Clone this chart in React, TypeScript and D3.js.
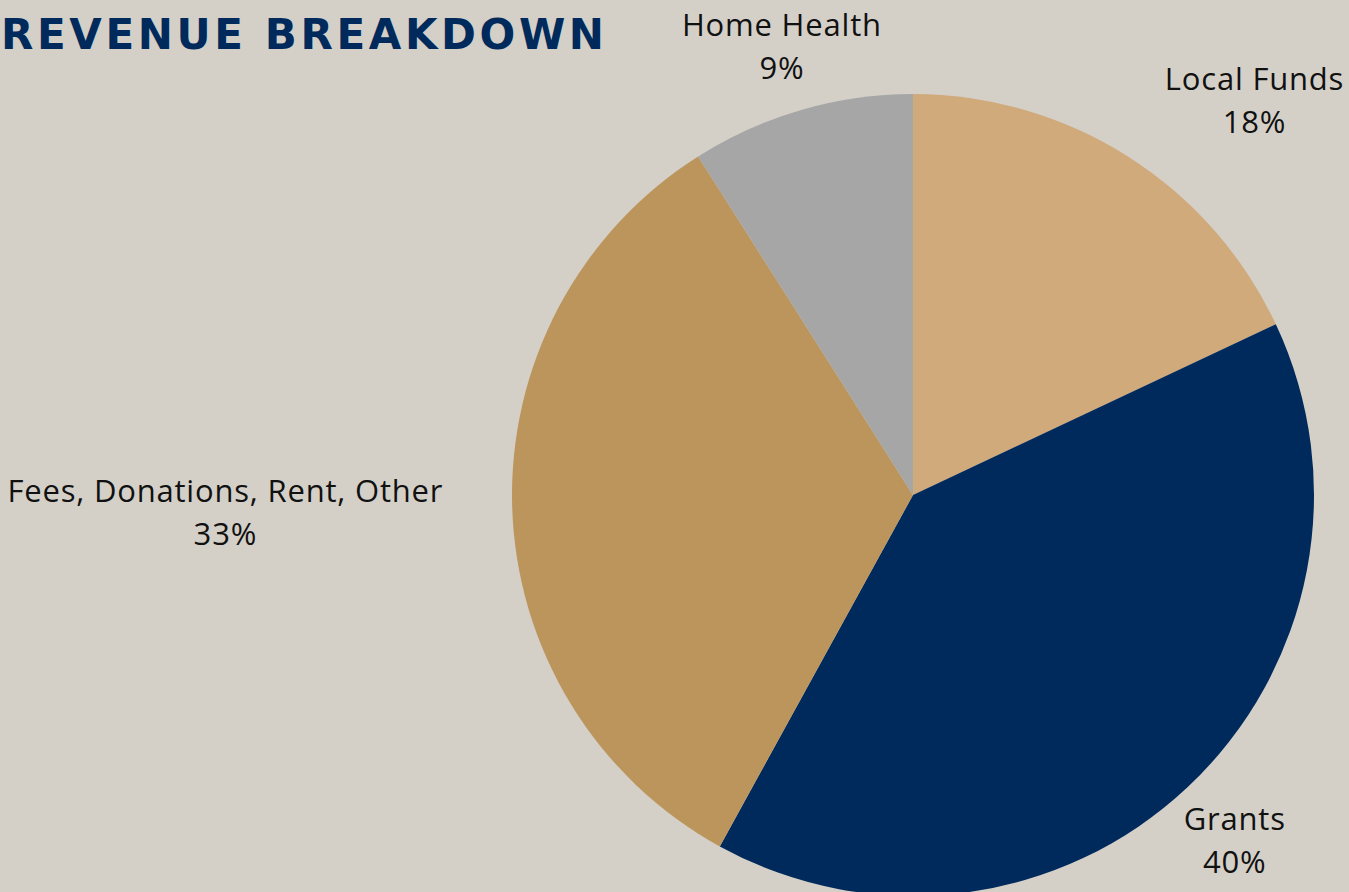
import React, { useEffect, useRef } from "react";
import * as d3 from "d3";

const categories = ["Local Funds", "Grants", "Fees, Donations, Rent, Other", "Home Health"];
const shares = [18, 40, 33, 9];
const colors = ["#D0AA7A", "#002A5C", "#BC955C", "#A6A6A6"];
// label anchor per slice (layout only)
const anchors = ["start", "middle", "end", "middle"];

const W = 1349;
const H = 892;

const App = () => {
  const svgRef = useRef<SVGSVGElement | null>(null);

  useEffect(() => {
    document.body.style.margin = "0";
    const svg = d3.select(svgRef.current);
    svg.selectAll("*").remove();

    svg.append("rect").attr("width", W).attr("height", H).attr("fill", "#D4D0C8");

    const cx = 913;
    const cy = 495;
    const radius = 401;

    const data = categories.map((c, i) => ({ name: c, value: shares[i], i }));
    const pie = d3
      .pie<any>()
      .sort(null)
      .value((d) => d.value);
    const arc = d3.arc<any>().innerRadius(0).outerRadius(radius);
    const labelArc = d3.arc<any>().innerRadius(470).outerRadius(470);

    const g = svg.append("g").attr("transform", `translate(${cx}, ${cy})`);
    const arcs = pie(data);

    g.selectAll("path")
      .data(arcs)
      .enter()
      .append("path")
      .attr("d", arc)
      .attr("fill", (d) => colors[d.data.i]);

    const lineH = 43;
    const labels = g
      .selectAll(".lbl")
      .data(arcs)
      .enter()
      .append("text")
      .attr("class", "lbl")
      .attr("font-family", "'Open Sans', sans-serif")
      .attr("font-size", 31)
      .attr("letter-spacing", 0.8)
      .attr("fill", "#111");

    labels.each(function (d) {
      const [x, y] = labelArc.centroid(d);
      const t = d3.select(this);
      const anchor = anchors[d.data.i];
      const lines = [d.data.name, `${d.data.value}%`];
      // measure first line to center the percentage under it
      t.append("tspan").attr("x", x).attr("y", y - 8).text(lines[0]);
      const w = (t.node() as SVGTextElement).getComputedTextLength();
      t.selectAll("*").remove();
      let left = x;
      if (anchor === "middle") left = x - w / 2;
      if (anchor === "end") left = x - w;
      t.attr("text-anchor", "middle");
      t.append("tspan").attr("x", left + w / 2).attr("y", y - 8).text(lines[0]);
      t.append("tspan").attr("x", left + w / 2).attr("y", y - 8 + lineH).text(lines[1]);
    });

    svg
      .append("text")
      .attr("x", 1)
      .attr("y", 49)
      .attr("font-family", "'DejaVu Sans', sans-serif")
      .attr("font-weight", 700)
      .attr("font-size", 42)
      .attr("fill", "#002A5C")
      .attr("textLength", 603)
      .attr("lengthAdjust", "spacing")
      .text("REVENUE BREAKDOWN");
  }, []);

  return (
    <svg
      ref={svgRef}
      width={W}
      height={H}
      style={{ position: "absolute", left: 0, top: 0, display: "block" }}
    />
  );
};

export default App;
